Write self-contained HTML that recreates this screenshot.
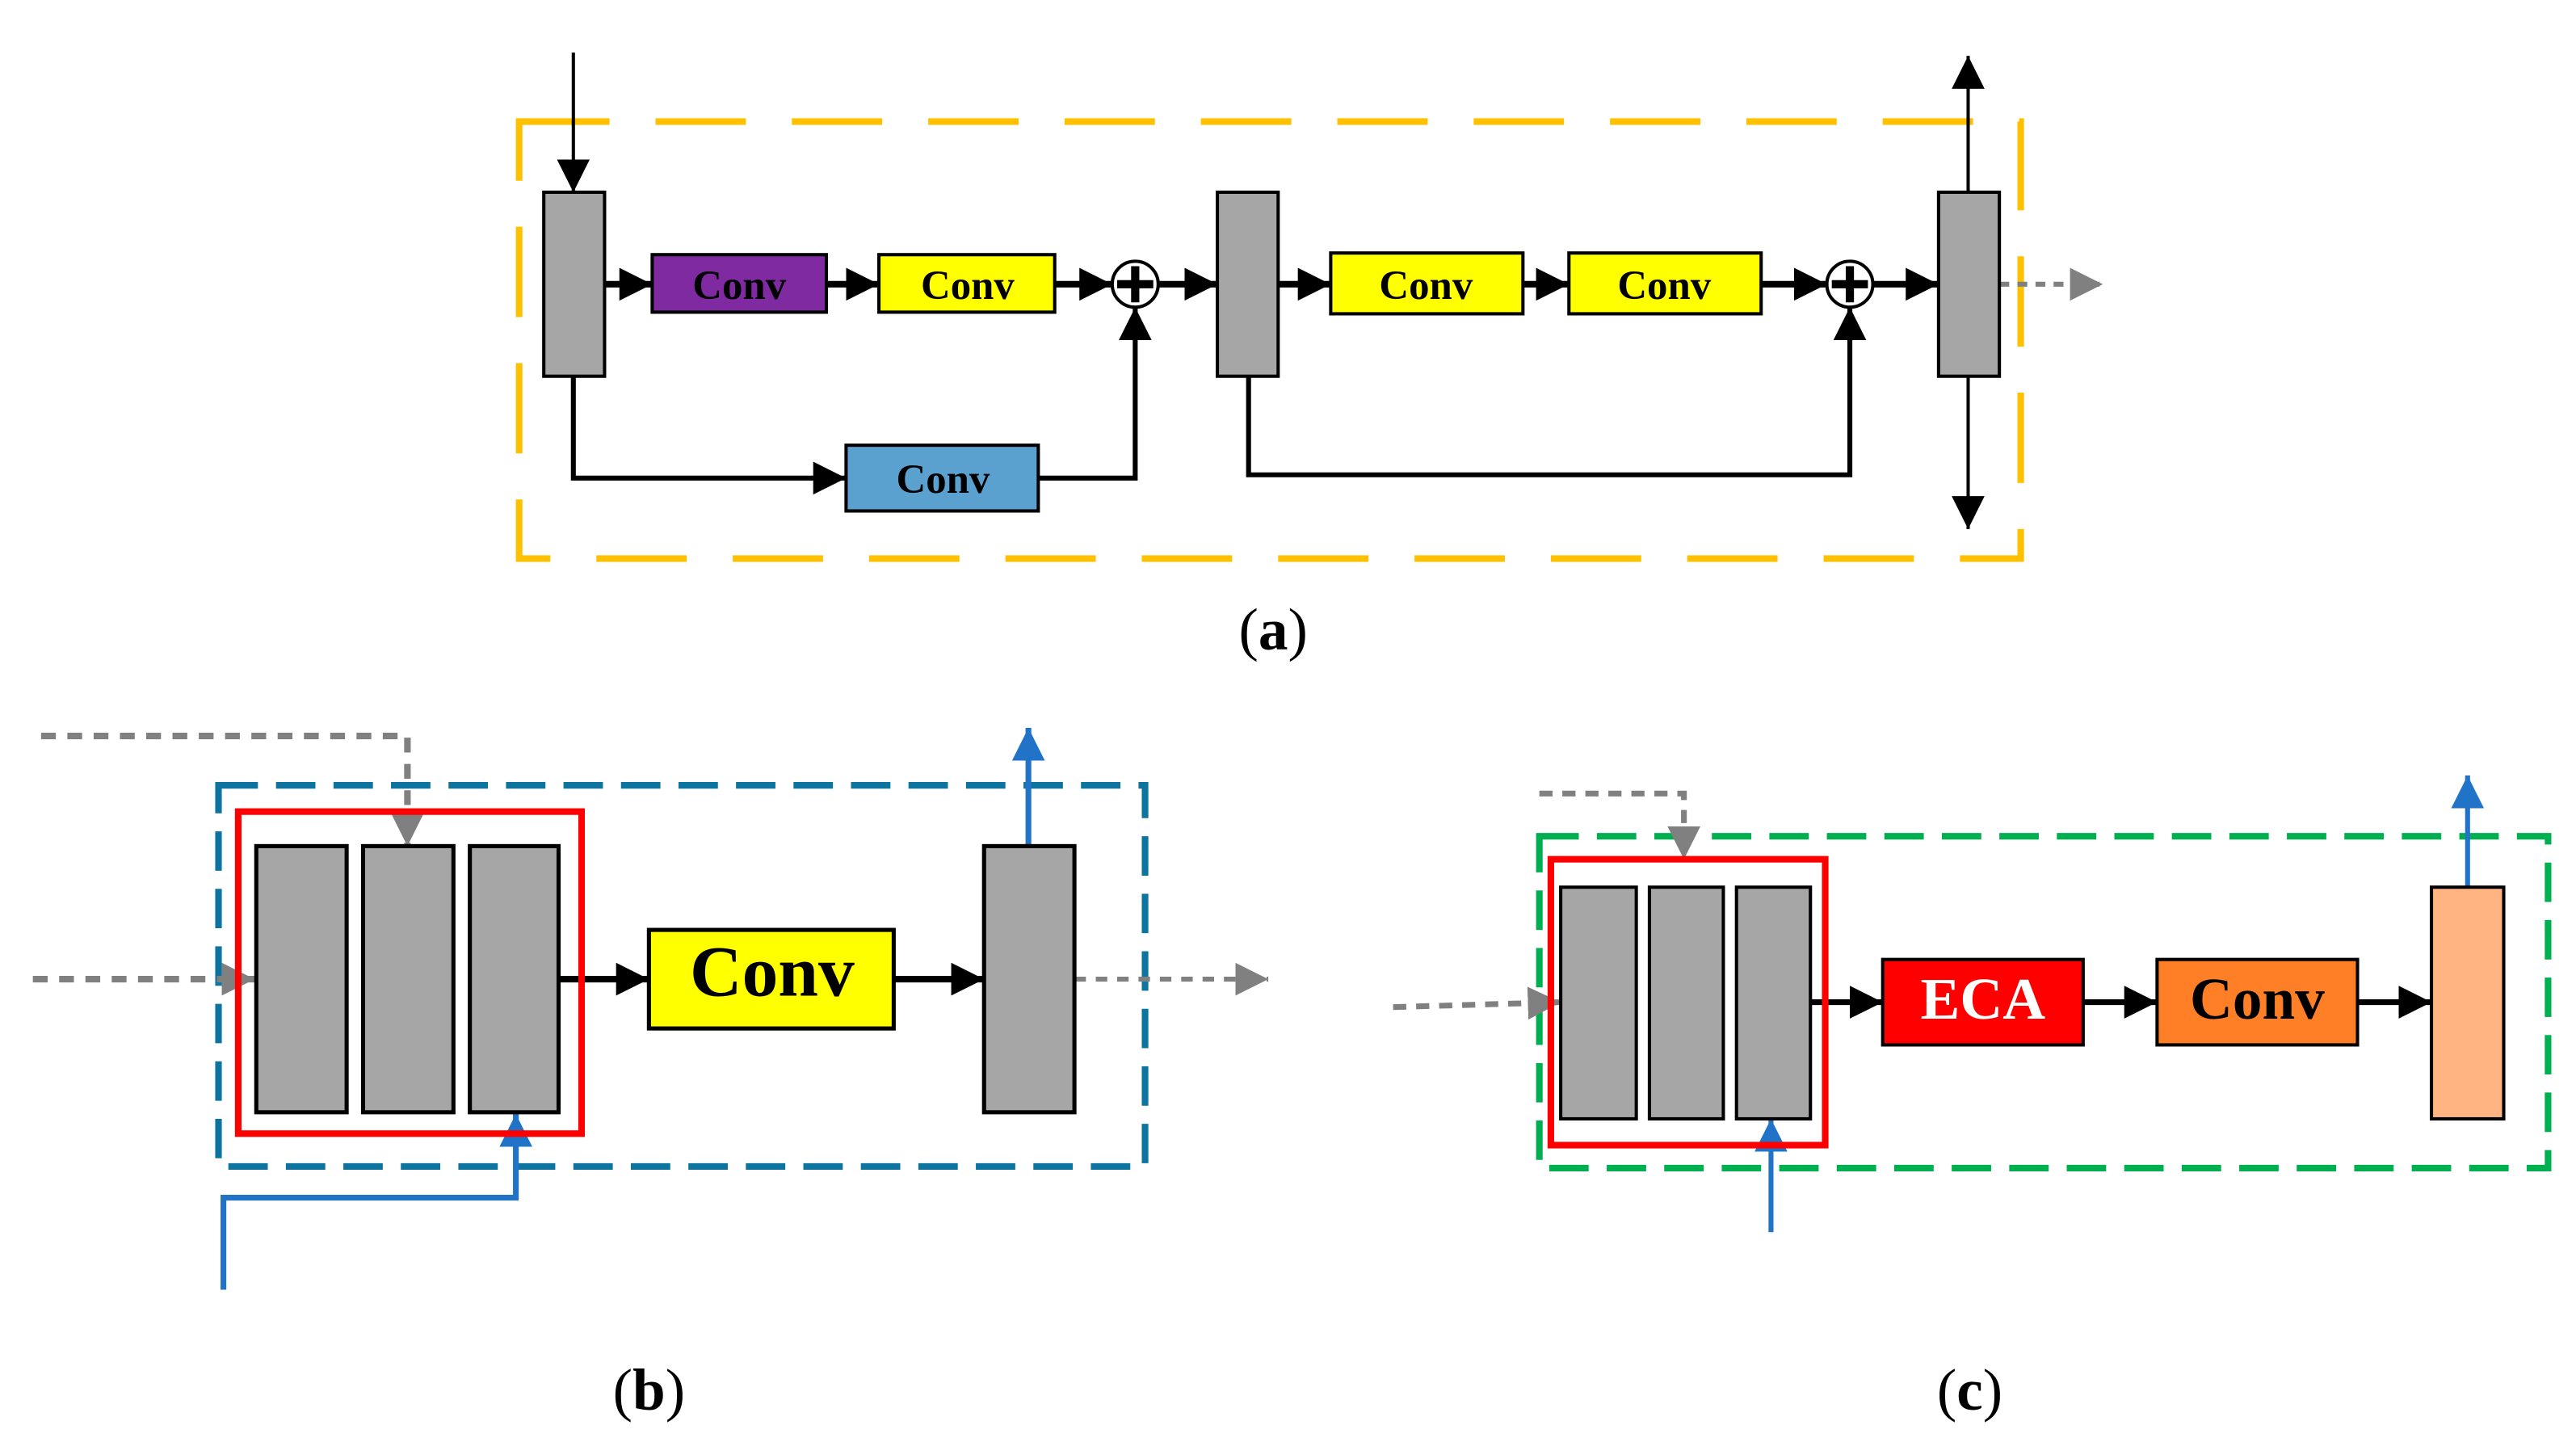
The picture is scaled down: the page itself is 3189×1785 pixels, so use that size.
<!DOCTYPE html>
<html><head><style>html,body{margin:0;padding:0;background:#fff;width:3189px;height:1785px;overflow:hidden}svg{display:block}</style></head>
<body>
<svg width="3189" height="1785" viewBox="0 0 1568 877.7" preserveAspectRatio="none" xmlns="http://www.w3.org/2000/svg" font-family="'Liberation Serif',serif" font-weight="bold">
<defs>
<marker id="ab" markerWidth="8" markerHeight="8" refX="7" refY="4" orient="auto" markerUnits="userSpaceOnUse" viewBox="0 0 8 8"><path d="M0,0L8,4L0,8z" fill="#000"/></marker>
<marker id="abk" viewBox="0 0 10 10" refX="10" refY="5" markerWidth="20" markerHeight="20" orient="auto" markerUnits="userSpaceOnUse"><path d="M0,0L10,5L0,10z" fill="#000"/></marker>
<marker id="agr" viewBox="0 0 10 10" refX="10" refY="5" markerWidth="20" markerHeight="20" orient="auto" markerUnits="userSpaceOnUse"><path d="M0,0L10,5L0,10z" fill="#808080"/></marker>
<marker id="abl" viewBox="0 0 10 10" refX="10" refY="5" markerWidth="20" markerHeight="20" orient="auto" markerUnits="userSpaceOnUse"><path d="M0,0L10,5L0,10z" fill="#2173C8"/></marker>
</defs>
<!-- (a) -->
<rect x="316" y="74" width="914" height="266" fill="none" stroke="#FFC000" stroke-width="4" stroke-dasharray="55,28"/>
<g stroke="#000" stroke-width="2" fill="none">
<path d="M349,32V117" marker-end="url(#abk)"/>
<path d="M1198,117V34" marker-end="url(#abk)"/>
<path d="M1198,229V322" marker-end="url(#abk)"/>
<path d="M349,229V291H515" stroke-width="3" marker-end="url(#abk)"/>
<path d="M632,291H691V187" stroke-width="3" marker-end="url(#abk)"/>
<path d="M760,229V289H1126V187" stroke-width="3" marker-end="url(#abk)"/>
<path d="M368,173H397" stroke-width="4" marker-end="url(#abk)"/>
<path d="M503,173H535" stroke-width="4" marker-end="url(#abk)"/>
<path d="M642,173H677" stroke-width="4" marker-end="url(#abk)"/>
<path d="M705,173H741" stroke-width="4" marker-end="url(#abk)"/>
<path d="M778,173H810" stroke-width="4" marker-end="url(#abk)"/>
<path d="M927,173H955" stroke-width="4" marker-end="url(#abk)"/>
<path d="M1072,173H1112" stroke-width="4" marker-end="url(#abk)"/>
<path d="M1140,173H1180" stroke-width="4" marker-end="url(#abk)"/>
</g>
<path d="M1217,173H1280" stroke="#808080" stroke-width="3" stroke-dasharray="6,5" marker-end="url(#agr)"/>
<g stroke="#000" stroke-width="2">
<rect x="331" y="117" width="37" height="112" fill="#A6A6A6"/>
<rect x="741" y="117" width="37" height="112" fill="#A6A6A6"/>
<rect x="1180" y="117" width="37" height="112" fill="#A6A6A6"/>
<rect x="397" y="155" width="106" height="35" fill="#7F2AA0"/>
<rect x="535" y="155" width="107" height="35" fill="#FFFF00"/>
<rect x="810" y="154" width="117" height="37" fill="#FFFF00"/>
<rect x="955" y="154" width="117" height="37" fill="#FFFF00"/>
<rect x="515" y="271" width="117" height="40" fill="#5BA1D0"/>
<circle cx="691" cy="173" r="14" fill="#fff"/>
<circle cx="1126" cy="173" r="14" fill="#fff"/>
</g>
<g stroke="#000" stroke-width="5"><path d="M691,162V184M680,173H702M1126,162V184M1115,173H1137"/></g>
<g font-size="25" text-anchor="middle" fill="#000">
<text x="450" y="182">Conv</text><text x="589" y="182">Conv</text>
<text x="868" y="182">Conv</text><text x="1013" y="182">Conv</text>
<text x="574" y="300">Conv</text>
</g>
<text x="775" y="395" font-size="36" text-anchor="middle" font-weight="normal">(<tspan font-weight="bold">a</tspan>)</text>
<!-- (b) -->
<rect x="133" y="478" width="564" height="232" fill="none" stroke="#0D74A0" stroke-width="4" stroke-dasharray="24,11"/>
<path d="M25,448H248V515" fill="none" stroke="#808080" stroke-width="4" stroke-dasharray="9,7" marker-end="url(#agr)"/>
<path d="M20,596H155" stroke="#808080" stroke-width="4" stroke-dasharray="9,7" marker-end="url(#agr)"/>
<path d="M654,596H772" stroke="#808080" stroke-width="3" stroke-dasharray="7,6" marker-end="url(#agr)"/>
<path d="M626,515V443" stroke="#2173C8" stroke-width="3.5" marker-end="url(#abl)"/>
<path d="M136,785V729H314V678" fill="none" stroke="#2173C8" stroke-width="3.5" marker-end="url(#abl)"/>
<path d="M340,596H395" stroke="#000" stroke-width="4" marker-end="url(#abk)"/>
<path d="M544,596H599" stroke="#000" stroke-width="4" marker-end="url(#abk)"/>
<rect x="145" y="494" width="209" height="196" fill="none" stroke="#FF0000" stroke-width="4"/>
<g stroke="#000" stroke-width="2.5" fill="#A6A6A6">
<rect x="156" y="515" width="55" height="162"/><rect x="221" y="515" width="55" height="162"/><rect x="286" y="515" width="54" height="162"/>
<rect x="599" y="515" width="55" height="162"/>
<rect x="395" y="566" width="149" height="60" fill="#FFFF00"/>
</g>
<text x="470" y="606" font-size="44" text-anchor="middle">Conv</text>
<text x="395" y="858" font-size="36" text-anchor="middle" font-weight="normal">(<tspan font-weight="bold">b</tspan>)</text>
<!-- (c) -->
<rect x="937" y="509" width="614" height="202" fill="none" stroke="#00B050" stroke-width="4" stroke-dasharray="24,11"/>
<path d="M937,483H1025V523" fill="none" stroke="#808080" stroke-width="3.5" stroke-dasharray="8,6" marker-end="url(#agr)"/>
<path d="M848,613L950,610" stroke="#808080" stroke-width="3.5" stroke-dasharray="8,6" marker-end="url(#agr)"/>
<path d="M1502,540V472" stroke="#2173C8" stroke-width="3" marker-end="url(#abl)"/>
<path d="M1078,750V681" stroke="#2173C8" stroke-width="3" marker-end="url(#abl)"/>
<path d="M1102,610H1146" stroke="#000" stroke-width="3.5" marker-end="url(#abk)"/>
<path d="M1268,610H1313" stroke="#000" stroke-width="3.5" marker-end="url(#abk)"/>
<path d="M1435,610H1480" stroke="#000" stroke-width="3.5" marker-end="url(#abk)"/>
<rect x="944" y="523" width="167" height="174" fill="none" stroke="#FF0000" stroke-width="4"/>
<g stroke="#000" stroke-width="2" fill="#A6A6A6">
<rect x="950" y="540" width="46" height="141"/><rect x="1004" y="540" width="45" height="141"/><rect x="1057" y="540" width="45" height="141"/>
<rect x="1480" y="540" width="44" height="141" fill="#FFB482"/>
<rect x="1146" y="584" width="122" height="52" fill="#FF0000"/>
<rect x="1313" y="584" width="122" height="52" fill="#FF7F27"/>
</g>
<text x="1207" y="620" font-size="36" text-anchor="middle" fill="#fff">ECA</text>
<text x="1374" y="620" font-size="36" text-anchor="middle">Conv</text>
<text x="1199" y="858" font-size="36" text-anchor="middle" font-weight="normal">(<tspan font-weight="bold">c</tspan>)</text>
</svg>
</body></html>
